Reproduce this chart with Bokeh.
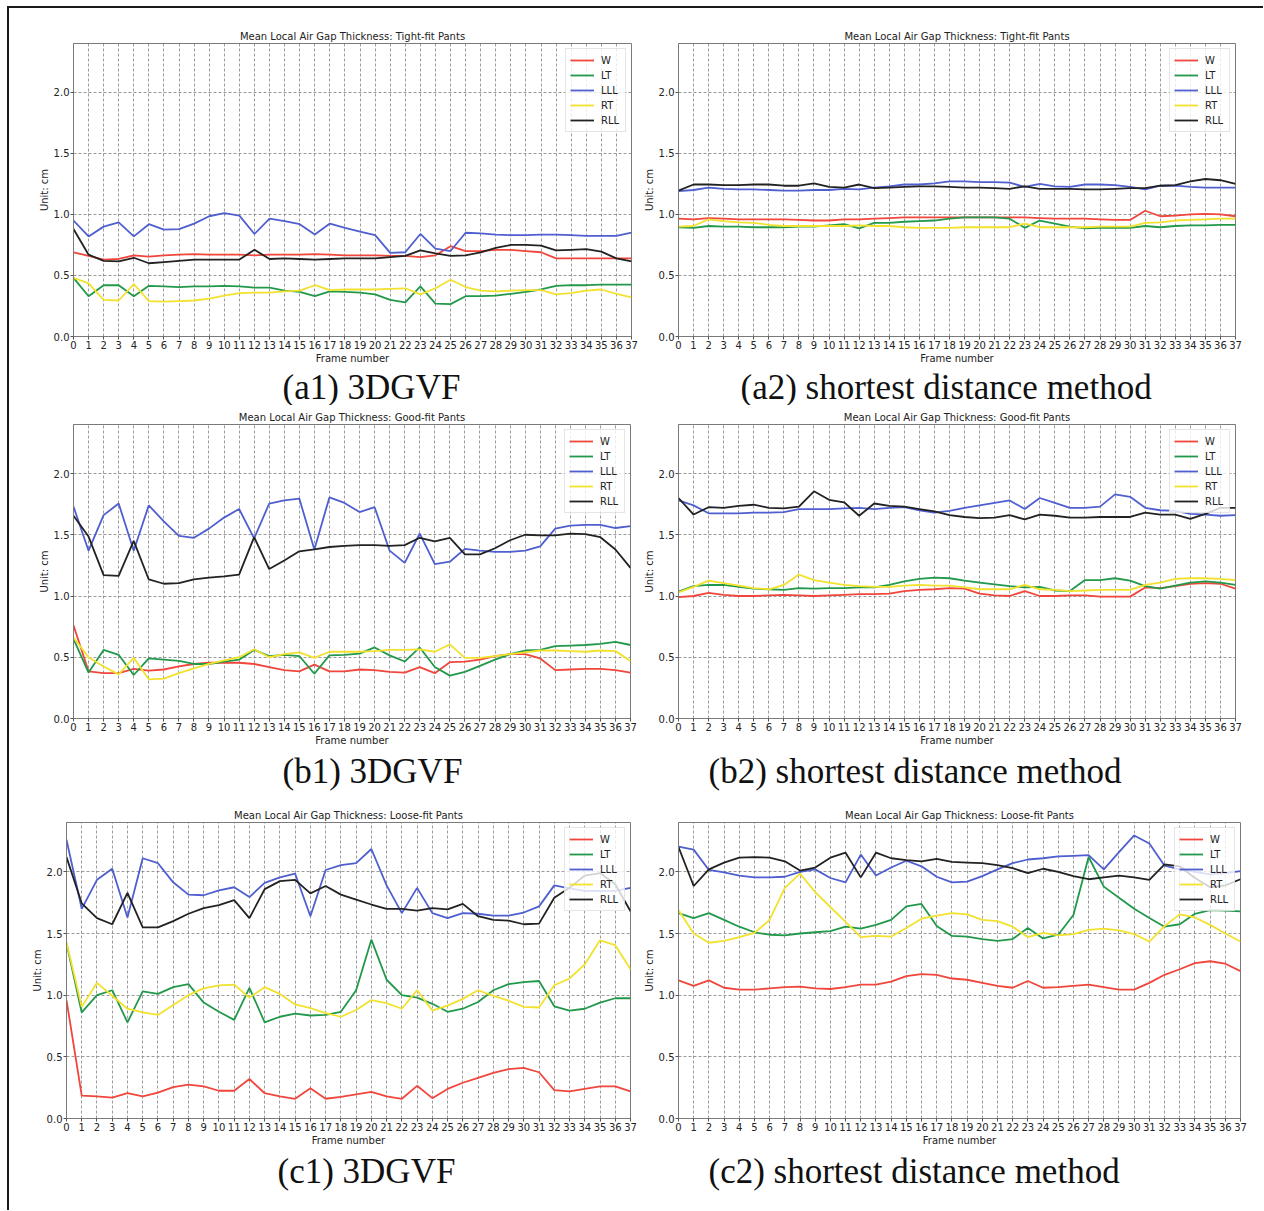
from bokeh.plotting import figure
from bokeh.models import Range1d, FixedTicker, PrintfTickFormatter, Title, Legend, LegendItem
from bokeh.layouts import row, column
from bokeh.embed import file_html
from bokeh.resources import INLINE

frames = list(range(38))
series_names = ["W", "LT", "LLL", "RT", "RLL"]
series_colors = ["#f0463c", "#22994a", "#4f5fcf", "#f2e22e", "#222222"]
y_ticks = [0.0, 0.5, 1.0, 1.5, 2.0]

# ---- (a1) 3DGVF, tight-fit
a1_W = [0.69, 0.66, 0.63, 0.635, 0.665, 0.655, 0.665, 0.67, 0.675, 0.67,
        0.67, 0.67, 0.665, 0.67, 0.67, 0.67, 0.675, 0.67, 0.665, 0.665,
        0.665, 0.66, 0.66, 0.65, 0.665, 0.74, 0.70, 0.70, 0.71, 0.71,
        0.70, 0.69, 0.64, 0.64, 0.64, 0.64, 0.64, 0.64]
a1_LT = [0.48, 0.33, 0.42, 0.42, 0.33, 0.415, 0.41, 0.405, 0.41, 0.41,
         0.415, 0.41, 0.40, 0.40, 0.375, 0.365, 0.33, 0.37, 0.365, 0.36,
         0.345, 0.30, 0.28, 0.41, 0.27, 0.265, 0.33, 0.33, 0.335, 0.35,
         0.365, 0.385, 0.415, 0.42, 0.42, 0.425, 0.425, 0.425]
a1_LLL = [0.95, 0.82, 0.90, 0.935, 0.82, 0.92, 0.875, 0.88, 0.925, 0.985,
          1.01, 0.99, 0.84, 0.965, 0.945, 0.92, 0.835, 0.925, 0.89, 0.86,
          0.83, 0.685, 0.69, 0.84, 0.72, 0.70, 0.85, 0.845, 0.835, 0.83,
          0.83, 0.835, 0.835, 0.83, 0.825, 0.825, 0.825, 0.85]
a1_RT = [0.48, 0.435, 0.30, 0.295, 0.43, 0.29, 0.285, 0.29, 0.295, 0.31,
         0.335, 0.355, 0.36, 0.36, 0.37, 0.375, 0.42, 0.38, 0.385, 0.385,
         0.385, 0.39, 0.395, 0.345, 0.395, 0.465, 0.405, 0.375, 0.37, 0.375,
         0.38, 0.38, 0.345, 0.355, 0.375, 0.385, 0.35, 0.32]
a1_RLL = [0.88, 0.67, 0.62, 0.615, 0.645, 0.60, 0.61, 0.62, 0.63, 0.63,
          0.63, 0.63, 0.71, 0.635, 0.64, 0.635, 0.63, 0.635, 0.64, 0.64,
          0.64, 0.65, 0.66, 0.705, 0.68, 0.66, 0.665, 0.69, 0.725, 0.75,
          0.75, 0.745, 0.705, 0.71, 0.715, 0.695, 0.64, 0.615]

# ---- (a2) shortest distance, tight-fit
a2_W = [0.965, 0.96, 0.97, 0.965, 0.96, 0.96, 0.96, 0.96, 0.955, 0.95,
        0.95, 0.96, 0.96, 0.965, 0.97, 0.975, 0.975, 0.975, 0.975, 0.975,
        0.975, 0.975, 0.975, 0.975, 0.97, 0.965, 0.965, 0.965, 0.96, 0.955,
        0.955, 1.03, 0.985, 0.99, 1.0, 1.005, 1.0, 0.985]
a2_LT = [0.895, 0.89, 0.905, 0.9, 0.9, 0.895, 0.895, 0.895, 0.9, 0.9,
         0.91, 0.92, 0.885, 0.93, 0.93, 0.94, 0.945, 0.95, 0.965, 0.975,
         0.975, 0.975, 0.965, 0.89, 0.95, 0.925, 0.9, 0.885, 0.89, 0.89,
         0.89, 0.905, 0.895, 0.905, 0.91, 0.91, 0.915, 0.915]
a2_LLL = [1.19, 1.20, 1.22, 1.21, 1.205, 1.205, 1.20, 1.195, 1.195, 1.20,
          1.20, 1.21, 1.205, 1.22, 1.23, 1.245, 1.245, 1.255, 1.27, 1.27,
          1.265, 1.265, 1.26, 1.225, 1.25, 1.23, 1.225, 1.245, 1.245, 1.24,
          1.225, 1.205, 1.235, 1.235, 1.225, 1.22, 1.22, 1.22]
a2_RT = [0.90, 0.905, 0.96, 0.945, 0.935, 0.93, 0.915, 0.905, 0.905, 0.905,
         0.905, 0.905, 0.91, 0.905, 0.905, 0.895, 0.89, 0.89, 0.89, 0.895,
         0.895, 0.895, 0.895, 0.925, 0.895, 0.895, 0.895, 0.895, 0.9, 0.9,
         0.9, 0.93, 0.935, 0.95, 0.955, 0.96, 0.965, 0.965]
a2_RLL = [1.195, 1.245, 1.245, 1.24, 1.24, 1.245, 1.245, 1.235, 1.235, 1.255,
          1.225, 1.22, 1.245, 1.215, 1.22, 1.225, 1.23, 1.23, 1.225, 1.22,
          1.22, 1.215, 1.21, 1.23, 1.21, 1.21, 1.21, 1.205, 1.205, 1.21,
          1.215, 1.215, 1.235, 1.24, 1.27, 1.29, 1.28, 1.25]

# ---- (b1) 3DGVF, good-fit
b1_W = [0.76, 0.385, 0.37, 0.37, 0.405, 0.39, 0.40, 0.425, 0.445, 0.455,
        0.455, 0.455, 0.445, 0.42, 0.395, 0.385, 0.44, 0.385, 0.385, 0.40,
        0.395, 0.38, 0.375, 0.42, 0.37, 0.46, 0.465, 0.48, 0.51, 0.525,
        0.525, 0.49, 0.395, 0.40, 0.405, 0.405, 0.395, 0.375]
b1_LT = [0.65, 0.375, 0.56, 0.52, 0.355, 0.49, 0.48, 0.47, 0.445, 0.445,
         0.465, 0.48, 0.56, 0.51, 0.52, 0.51, 0.365, 0.515, 0.52, 0.53,
         0.58, 0.515, 0.465, 0.58, 0.42, 0.35, 0.38, 0.43, 0.48, 0.525,
         0.555, 0.56, 0.59, 0.595, 0.60, 0.61, 0.625, 0.60]
b1_LLL = [1.73, 1.37, 1.66, 1.755, 1.37, 1.74, 1.61, 1.49, 1.475, 1.55,
          1.64, 1.71, 1.47, 1.755, 1.78, 1.795, 1.38, 1.805, 1.76, 1.685,
          1.725, 1.37, 1.27, 1.51, 1.26, 1.28, 1.385, 1.37, 1.36, 1.36,
          1.37, 1.405, 1.55, 1.575, 1.58, 1.58, 1.555, 1.57]
b1_RT = [0.66, 0.50, 0.425, 0.36, 0.495, 0.32, 0.325, 0.37, 0.41, 0.445,
         0.475, 0.50, 0.565, 0.50, 0.525, 0.54, 0.495, 0.545, 0.545, 0.545,
         0.55, 0.56, 0.56, 0.565, 0.545, 0.605, 0.495, 0.495, 0.51, 0.525,
         0.54, 0.555, 0.555, 0.55, 0.545, 0.555, 0.55, 0.47]
b1_RLL = [1.655, 1.485, 1.17, 1.165, 1.45, 1.135, 1.10, 1.105, 1.135, 1.15,
          1.16, 1.175, 1.48, 1.22, 1.29, 1.365, 1.38, 1.40, 1.41, 1.415,
          1.415, 1.41, 1.415, 1.475, 1.445, 1.475, 1.34, 1.34, 1.39, 1.455,
          1.50, 1.495, 1.495, 1.51, 1.505, 1.48, 1.38, 1.23]

# ---- (b2) shortest distance, good-fit
b2_W = [0.99, 1.0, 1.025, 1.01, 1.0, 1.0, 1.005, 1.01, 1.005, 1.0,
        1.005, 1.01, 1.015, 1.015, 1.02, 1.04, 1.05, 1.055, 1.065, 1.06,
        1.02, 1.005, 1.0, 1.04, 1.0, 1.0, 1.005, 1.005, 0.995, 0.995,
        0.995, 1.07, 1.065, 1.08, 1.10, 1.105, 1.10, 1.06]
b2_LT = [1.035, 1.08, 1.09, 1.09, 1.075, 1.06, 1.055, 1.05, 1.065, 1.06,
         1.065, 1.065, 1.07, 1.07, 1.09, 1.12, 1.14, 1.15, 1.145, 1.125,
         1.11, 1.095, 1.08, 1.07, 1.075, 1.045, 1.04, 1.13, 1.13, 1.145,
         1.125, 1.08, 1.06, 1.085, 1.11, 1.12, 1.11, 1.09]
b2_LLL = [1.78, 1.74, 1.675, 1.675, 1.675, 1.68, 1.68, 1.685, 1.71, 1.71,
          1.71, 1.715, 1.72, 1.71, 1.72, 1.725, 1.70, 1.68, 1.695, 1.72,
          1.74, 1.76, 1.78, 1.71, 1.80, 1.76, 1.72, 1.72, 1.73, 1.83,
          1.81, 1.72, 1.70, 1.695, 1.67, 1.665, 1.655, 1.66]
b2_RT = [1.03, 1.075, 1.125, 1.105, 1.085, 1.065, 1.055, 1.09, 1.175, 1.13,
         1.11, 1.09, 1.08, 1.075, 1.075, 1.085, 1.09, 1.085, 1.085, 1.07,
         1.055, 1.055, 1.055, 1.09, 1.055, 1.05, 1.04, 1.045, 1.05, 1.05,
         1.05, 1.09, 1.11, 1.14, 1.145, 1.145, 1.14, 1.13]
b2_RLL = [1.80, 1.665, 1.725, 1.72, 1.735, 1.745, 1.72, 1.715, 1.73, 1.855,
          1.785, 1.765, 1.655, 1.755, 1.735, 1.73, 1.71, 1.69, 1.66, 1.645,
          1.635, 1.64, 1.66, 1.625, 1.665, 1.655, 1.64, 1.64, 1.645, 1.645,
          1.645, 1.68, 1.665, 1.665, 1.63, 1.67, 1.72, 1.72]

# ---- (c1) 3DGVF, loose-fit
c1_W = [0.96, 0.185, 0.18, 0.17, 0.205, 0.18, 0.21, 0.255, 0.275, 0.26,
        0.225, 0.225, 0.32, 0.205, 0.18, 0.16, 0.245, 0.16, 0.175, 0.195,
        0.215, 0.18, 0.16, 0.265, 0.165, 0.24, 0.29, 0.33, 0.37, 0.40,
        0.41, 0.375, 0.23, 0.22, 0.24, 0.26, 0.26, 0.22]
c1_LT = [1.42, 0.86, 1.0, 1.04, 0.78, 1.03, 1.01, 1.065, 1.09, 0.94,
         0.865, 0.80, 1.06, 0.78, 0.825, 0.85, 0.835, 0.84, 0.865, 1.04,
         1.45, 1.125, 1.0, 0.98, 0.93, 0.865, 0.89, 0.945, 1.04, 1.09,
         1.105, 1.115, 0.91, 0.875, 0.89, 0.94, 0.975, 0.975]
c1_LLL = [2.26, 1.70, 1.935, 2.025, 1.63, 2.11, 2.07, 1.915, 1.815, 1.81,
          1.85, 1.875, 1.795, 1.91, 1.955, 1.985, 1.64, 2.015, 2.055, 2.07,
          2.185, 1.89, 1.665, 1.87, 1.665, 1.625, 1.665, 1.66, 1.645, 1.645,
          1.67, 1.72, 1.89, 1.865, 1.845, 1.845, 1.845, 1.87]
c1_RT = [1.43, 0.905, 1.10, 0.995, 0.89, 0.86, 0.84, 0.92, 1.0, 1.055,
         1.08, 1.085, 0.98, 1.065, 1.01, 0.925, 0.895, 0.855, 0.825, 0.88,
         0.96, 0.935, 0.89, 1.04, 0.875, 0.915, 0.97, 1.04, 0.995, 0.955,
         0.905, 0.90, 1.08, 1.135, 1.25, 1.445, 1.405, 1.21]
c1_RLL = [2.12, 1.745, 1.625, 1.575, 1.83, 1.55, 1.55, 1.60, 1.66, 1.705,
          1.73, 1.77, 1.625, 1.86, 1.925, 1.935, 1.825, 1.885, 1.815, 1.775,
          1.735, 1.70, 1.70, 1.685, 1.705, 1.695, 1.74, 1.64, 1.61, 1.605,
          1.575, 1.58, 1.79, 1.87, 1.97, 1.99, 1.90, 1.68]

# ---- (c2) shortest distance, loose-fit
c2_W = [1.12, 1.075, 1.12, 1.06, 1.045, 1.045, 1.055, 1.065, 1.07, 1.055,
        1.05, 1.065, 1.085, 1.085, 1.11, 1.155, 1.17, 1.165, 1.135, 1.125,
        1.10, 1.075, 1.06, 1.115, 1.06, 1.065, 1.075, 1.085, 1.065, 1.045,
        1.045, 1.10, 1.165, 1.21, 1.26, 1.275, 1.255, 1.195]
c2_LT = [1.665, 1.625, 1.665, 1.61, 1.555, 1.51, 1.49, 1.485, 1.50, 1.51,
         1.52, 1.555, 1.54, 1.57, 1.61, 1.72, 1.74, 1.56, 1.48, 1.475,
         1.455, 1.44, 1.455, 1.545, 1.46, 1.49, 1.65, 2.12, 1.88, 1.79,
         1.70, 1.625, 1.555, 1.575, 1.66, 1.69, 1.685, 1.68]
c2_LLL = [2.205, 2.18, 2.015, 1.995, 1.97, 1.955, 1.955, 1.96, 2.0, 2.02,
          1.95, 1.915, 2.14, 1.97, 2.035, 2.09, 2.045, 1.96, 1.915, 1.92,
          1.965, 2.02, 2.07, 2.10, 2.11, 2.125, 2.13, 2.135, 2.02, 2.16,
          2.295, 2.23, 2.05, 2.02, 2.0, 1.98, 1.99, 2.005]
c2_RT = [1.69, 1.50, 1.425, 1.44, 1.47, 1.505, 1.61, 1.87, 1.985, 1.835,
         1.715, 1.595, 1.47, 1.48, 1.475, 1.545, 1.62, 1.645, 1.665, 1.655,
         1.61, 1.60, 1.555, 1.47, 1.505, 1.485, 1.495, 1.53, 1.54, 1.525,
         1.495, 1.435, 1.56, 1.655, 1.63, 1.57, 1.50, 1.435]
c2_RLL = [2.20, 1.885, 2.02, 2.075, 2.115, 2.12, 2.115, 2.085, 2.01, 2.035,
          2.115, 2.155, 1.955, 2.155, 2.11, 2.095, 2.085, 2.105, 2.08, 2.075,
          2.07, 2.055, 2.03, 1.99, 2.025, 2.00, 1.965, 1.94, 1.955, 1.97,
          1.955, 1.935, 2.06, 2.045, 1.95, 1.875, 1.89, 1.94]

titles = {
    "tight": "Mean Local Air Gap Thickness: Tight-fit Pants",
    "good": "Mean Local Air Gap Thickness: Good-fit Pants",
    "loose": "Mean Local Air Gap Thickness: Loose-fit Pants",
}

AXIS_FONT = "DejaVu Sans"
CAP_FONT = "Liberation Serif"


def make_panel(series, title, caption, width, height, bl, br, bt, bb, cap_offset, cap_standoff):
    p = figure(width=width, height=height,
               x_range=Range1d(0, 37), y_range=Range1d(0, 2.4),
               output_backend="svg", toolbar_location=None,
               min_border_left=bl, min_border_right=br,
               min_border_top=bt, min_border_bottom=bb,
               x_axis_label="Frame number", y_axis_label="Unit: cm")
    p.title.text = title
    p.title.align = "center"
    p.title.text_font = AXIS_FONT
    p.title.text_font_size = "10px"
    p.title.text_font_style = "normal"
    p.title.text_color = "#222222"
    p.title.standoff = 3

    p.xaxis.ticker = FixedTicker(ticks=frames)
    p.yaxis.ticker = FixedTicker(ticks=y_ticks)
    p.yaxis.formatter = PrintfTickFormatter(format="%.1f")
    for ax in (p.xaxis, p.yaxis):
        ax.axis_line_color = "#7a7a7a"
        ax.major_tick_line_color = "#555555"
        ax.major_tick_out = 3
        ax.major_tick_in = 0
        ax.minor_tick_line_color = None
        ax.major_label_text_font = AXIS_FONT
        ax.major_label_text_font_size = "10px"
        ax.major_label_text_color = "#222222"
        ax.major_label_standoff = 1
        ax.axis_label_text_font = AXIS_FONT
        ax.axis_label_text_font_size = "10px"
        ax.axis_label_text_font_style = "normal"
        ax.axis_label_text_color = "#222222"
        ax.axis_label_standoff = 1
    p.outline_line_color = "#7a7a7a"
    p.outline_line_width = 1
    p.grid.grid_line_color = "#8a8a8a"
    p.grid.grid_line_dash = "3 2"
    p.grid.grid_line_width = 1
    p.grid.grid_line_alpha = 0.85

    items = []
    for name, color, vals in zip(series_names, series_colors, series):
        r = p.line(frames, vals, line_color=color, line_width=1.8)
        items.append(LegendItem(label=name, renderers=[r]))
    leg = Legend(items=items, location="top_right",
                 label_text_font=AXIS_FONT, label_text_font_size="10px",
                 label_text_color="#222222",
                 glyph_width=24, glyph_height=14, label_height=14,
                 spacing=1, padding=4, margin=5, label_standoff=7,
                 border_line_color="#cccccc", border_line_width=1,
                 background_fill_color="white", background_fill_alpha=0.8)
    p.add_layout(leg)

    cap = Title(text=caption, align="left", offset=cap_offset,
                text_font=CAP_FONT, text_font_size="35px",
                text_font_style="normal", text_color="#111111")
    cap.standoff = cap_standoff
    p.add_layout(cap, "below")
    return p


# content origin: x=9, y=8 (after outer margin + border)
fa1 = make_panel([a1_W, a1_LT, a1_LLL, a1_RT, a1_RLL], titles["tight"], "(a1) 3DGVF",
                 629, 397, 64, 7, 35, 68, 209, -2)
fa2 = make_panel([a2_W, a2_LT, a2_LLL, a2_RT, a2_RLL], titles["tight"], "(a2) shortest distance method",
                 618, 397, 40, 21, 35, 68, 62, -2)
fb1 = make_panel([b1_W, b1_LT, b1_LLL, b1_RT, b1_RLL], titles["good"], "(b1) 3DGVF",
                 629, 390, 64, 8, 19, 77, 209, 2)
fb2 = make_panel([b2_W, b2_LT, b2_LLL, b2_RT, b2_RLL], titles["good"], "(b2) shortest distance method",
                 618, 390, 40, 21, 19, 77, 30, 2)
fc1 = make_panel([c1_W, c1_LT, c1_LLL, c1_RT, c1_RLL], titles["loose"], "(c1) 3DGVF",
                 629, 405, 57, 8, 27, 81, 211, 2)
fc2 = make_panel([c2_W, c2_LT, c2_LLL, c2_RT, c2_RLL], titles["loose"], "(c2) shortest distance method",
                 618, 405, 40, 16, 26, 82, 30, 2)

layout = column(row(fa1, fa2), row(fb1, fb2), row(fc1, fc2),
                styles={"border-left": "2px solid #1a1a1a", "border-top": "2px solid #1a1a1a",
                        "margin-left": "7px", "margin-top": "6px",
                        "padding-right": "7px", "padding-bottom": "10px"})

open("out.html", "w").write(file_html(layout, INLINE))
